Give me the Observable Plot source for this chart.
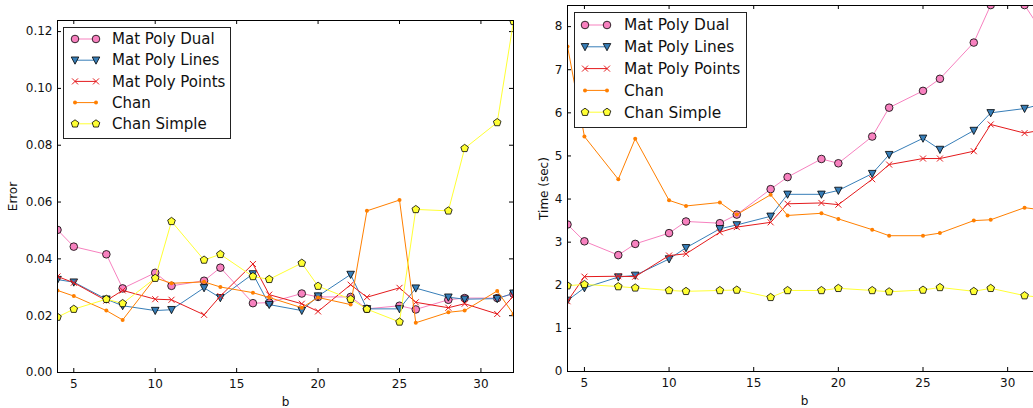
<!DOCTYPE html>
<html><head><meta charset="utf-8">
<script src="https://cdn.jsdelivr.net/npm/d3@7"></script>
<script src="https://cdn.jsdelivr.net/npm/@observablehq/plot@0.6"></script>
<style>
html,body{margin:0;padding:0;background:#fff;overflow:hidden;}
#wrap{position:relative;width:1033px;height:408px;overflow:hidden;font-family:"DejaVu Sans",sans-serif;}
.panel{position:absolute;top:0;}
</style></head><body><div id="wrap"></div>
<script>
// ---- data ----
const bValues = [4,5,7,8,10,11,13,14,16,17,19,20,22,23,25,26,28,29,31,32];
const seriesNames = ["Mat Poly Dual","Mat Poly Lines","Mat Poly Points","Chan","Chan Simple"];

const errDual       = [0.0502,0.0443,0.0416,0.0296,0.0351,0.0305,0.0323,0.0369,0.0244,0.0246,0.0278,0.0266,0.0266,0.0224,0.0235,0.0222,0.0256,0.0262,0.0262,0.0277];
const errLines      = [0.0327,0.0318,0.0258,0.0235,0.0218,0.0221,0.0298,0.0263,0.0347,0.0239,0.0218,0.0269,0.0345,0.0224,0.0224,0.0297,0.0265,0.0258,0.0260,0.0279];
const errPoints     = [0.0338,0.0316,0.0253,0.0289,0.0258,0.0256,0.0203,0.0269,0.0382,0.0274,0.0242,0.0215,0.0309,0.0265,0.0298,0.0247,0.0228,0.0242,0.0206,0.0269];
const errChan       = [0.0289,0.0269,0.0218,0.0185,0.0333,0.0314,0.0319,0.0301,0.0281,0.0264,0.0228,0.0264,0.0239,0.0569,0.0607,0.0175,0.0212,0.0218,0.0287,0.0205];
const errChanSimple = [0.0195,0.0223,0.0258,0.0243,0.0332,0.0532,0.0396,0.0416,0.0338,0.0328,0.0385,0.0304,0.0258,0.0223,0.0178,0.0574,0.0569,0.0789,0.0880,0.1236];

const timeDual       = [3.41,3.02,2.70,2.96,3.21,3.48,3.44,3.64,4.23,4.51,4.93,4.83,5.45,6.12,6.51,6.79,7.63,8.50,8.50,7.90];
const timeLines      = [1.65,1.94,2.19,2.23,2.61,2.87,3.31,3.40,3.60,4.11,4.11,4.20,4.59,5.03,5.41,5.15,5.59,6.00,6.10,6.20];
const timePoints     = [1.63,2.20,2.21,2.20,2.69,2.73,3.23,3.35,3.46,3.89,3.91,3.87,4.46,4.80,4.94,4.94,5.11,5.73,5.53,5.60];
const timeChan       = [7.54,5.45,4.46,5.40,3.97,3.84,3.92,3.64,4.10,3.62,3.67,3.54,3.29,3.15,3.15,3.21,3.50,3.52,3.80,3.75];
const timeChanSimple = [1.99,2.02,1.97,1.94,1.88,1.86,1.88,1.89,1.72,1.88,1.88,1.93,1.88,1.85,1.89,1.95,1.86,1.93,1.76,1.72];

const xTicks = [5,10,15,20,25,30];
const errTicks = [0,0.02,0.04,0.06,0.08,0.10,0.12];
const timeTicks = [0,1,2,3,4,5,6,7,8];

// ---- symbols ----
const triDown = {draw(ctx, size){ const r = Math.sqrt(size/Math.PI); ctx.moveTo(-r,-r*0.85); ctx.lineTo(r,-r*0.85); ctx.lineTo(0,r*1.05); ctx.closePath(); }};
const pentagon = {draw(ctx, size){ const r = Math.sqrt(size/Math.PI); for(let i=0;i<5;i++){ const a=-Math.PI/2+i*2*Math.PI/5; const x=r*Math.cos(a), y=r*Math.sin(a); if(i) ctx.lineTo(x,y); else ctx.moveTo(x,y);} ctx.closePath(); }};
const xMark = {draw(ctx, size){ const r = Math.sqrt(size/Math.PI); ctx.moveTo(-r,-r); ctx.lineTo(r,r); ctx.moveTo(-r,r); ctx.lineTo(r,-r); }};
const circ = {draw(ctx, size){ const r = Math.sqrt(size/Math.PI); ctx.moveTo(r,0); ctx.arc(0,0,r,0,2*Math.PI); }};

const styles = [
  {color:"#f781bf", symbol:circ,     r:3.8, fill:"#f781bf", stroke:"#000", sw:0.8},
  {color:"#377eb8", symbol:triDown,  r:3.8, fill:"#377eb8", stroke:"#000", sw:0.8},
  {color:"#e41a1c", symbol:xMark,    r:3.0, fill:"none",    stroke:"#e41a1c", sw:1.0},
  {color:"#ff7f00", symbol:circ,     r:2.0, fill:"#ff7f00", stroke:"none", sw:0},
  {color:"#ffff33", symbol:pentagon, r:4.0, fill:"#ffff33", stroke:"#000", sw:0.8}
];

function panel(o){
  const {series, yDomain, yTicks, yFormat, yLabel, width, height, ml, mr, mt, mb, left, yLabelOffset, xLabelOffset} = o;
  const plotW = width - ml - mr, plotH = height - mt - mb;
  const marks = [
    Plot.ruleX(xTicks, {x: d=>d, insetTop: plotH-4, stroke:"#000"}),
    Plot.ruleX(xTicks, {x: d=>d, insetBottom: plotH-4, stroke:"#000"}),
    Plot.ruleY(yTicks, {y: d=>d, insetRight: plotW-4, stroke:"#000"}),
    Plot.ruleY(yTicks, {y: d=>d, insetLeft: plotW-4, stroke:"#000"}),
    Plot.axisX(xTicks, {tickSize:0, tickPadding:7, fontSize:12, fill:"#111", label:"b", labelAnchor:"center", labelArrow:"none", labelOffset:xLabelOffset}),
    Plot.axisY(yTicks, {tickSize:0, tickPadding:5, fontSize:12, fill:"#111", tickFormat:yFormat, label:yLabel, labelAnchor:"center", labelArrow:"none", labelOffset:yLabelOffset})
  ];
  series.forEach((vals, si) => {
    const st = styles[si];
    const rows = bValues.map((bv, i) => ({b: bv, v: vals[i], s: seriesNames[si]}));
    marks.push(Plot.line(rows, {x:"b", y:"v", stroke: st.color, strokeWidth:1, clip:true}));
    marks.push(Plot.dot(rows, {x:"b", y:"v", symbol: st.symbol, r: st.r, fill: st.fill, stroke: st.stroke, strokeWidth: st.sw, clip:true}));
  });
  marks.push(Plot.frame({stroke:"#000", strokeWidth:1}));
  const chart = Plot.plot({
    width, height, marginLeft: ml, marginRight: mr, marginTop: mt, marginBottom: mb,
    style: {fontFamily: '"DejaVu Sans", sans-serif', fontSize: "12px", background: "#fff", overflow: "visible"},
    x: {domain: [4, 32]},
    y: {domain: yDomain},
    marks
  });
  chart.classList.add("panel");
  chart.style.left = left + "px";
  document.getElementById("wrap").appendChild(chart);
}

function legend(o){
  const {x0, y0, w, h, rowY, dy, mx1, mx2, tx, fontSize} = o;
  const svg = d3.select("#wrap").append("svg")
    .attr("class","panel").attr("width",1033).attr("height",408)
    .style("left","0px").style("pointer-events","none");
  svg.append("rect").attr("x",x0+0.5).attr("y",y0+0.5).attr("width",w).attr("height",h)
    .attr("fill","#fff").attr("stroke","#222").attr("stroke-width",1);
  seriesNames.forEach((name, i) => {
    const st = styles[i];
    const y = rowY + i*dy;
    const g = svg.append("g");
    g.append("line").attr("x1",mx1).attr("x2",mx2).attr("y1",y).attr("y2",y).attr("stroke",st.color).attr("stroke-width",1);
    [mx1, mx2].forEach(mx => {
      g.append("path").attr("d", d3.symbol(st.symbol, Math.PI*st.r*st.r)())
        .attr("transform",`translate(${mx},${y})`)
        .attr("fill", st.fill).attr("stroke", st.stroke).attr("stroke-width", st.sw);
    });
    g.append("text").attr("x",tx).attr("y",y).attr("dy","0.35em")
      .attr("font-family",'"DejaVu Sans", sans-serif').attr("font-size",fontSize).attr("fill","#111").text(name);
  });
}

panel({series:[errDual,errLines,errPoints,errChan,errChanSimple], yDomain:[0,0.1239], yTicks:errTicks,
  yFormat: d3.format(".2f"), yLabel:"Error", width:520, height:408, ml:57, mr:7, mt:20, mb:36, left:0, yLabelOffset:49, xLabelOffset:33});
panel({series:[timeDual,timeLines,timePoints,timeChan,timeChanSimple], yDomain:[0,8.49], yTicks:timeTicks,
  yFormat: d=>String(d), yLabel:"Time (sec)", width:530, height:408, ml:47, mr:9, mt:5, mb:37, left:520, yLabelOffset:28, xLabelOffset:33});

legend({x0:63, y0:27, w:167, h:111, rowY:39, dy:21.2, mx1:75, mx2:96, tx:112, fontSize:"15px"});
legend({x0:574, y0:12, w:172, h:115, rowY:25, dy:21.8, mx1:585, mx2:607, tx:624, fontSize:"15.4px"});
</script></body></html>
